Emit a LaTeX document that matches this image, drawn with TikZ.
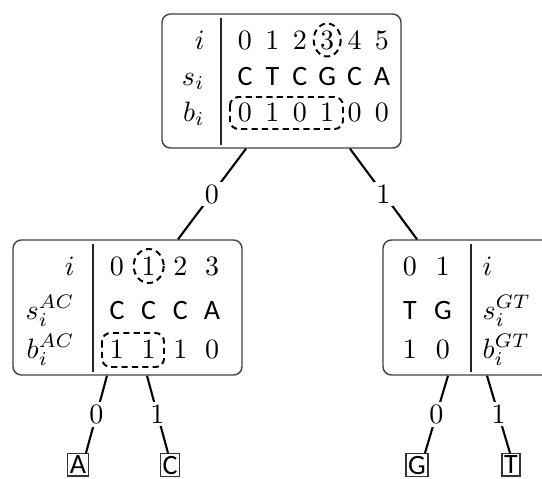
\documentclass[tikz,border=0pt]{standalone}
\usepackage{fontspec}
\setsansfont{Carlito}
\usetikzlibrary{fit}
\begin{document}
\begin{tikzpicture}[x=0.357pt,y=-0.357pt,
  font=\fontsize{10}{12}\selectfont,
  box/.style={draw=black!75, line width=0.5pt, rounded corners=3pt, inner sep=0pt},
  divl/.style={draw=black!85, line width=0.45pt},
  cell/.style={inner sep=0pt, anchor=base},
  sfcell/.style={inner sep=0pt, anchor=base, font=\fontsize{10}{12}\selectfont\sffamily},
  rlab/.style={inner sep=0pt, anchor=base east},
  llab/.style={inner sep=0pt, anchor=base west},
  hilite/.style={draw=black, line width=0.7pt, dash pattern=on 2.2pt off 1.5pt},
  conn/.style={draw=black, line width=0.75pt},
  elab/.style={fill=white, inner sep=1pt},
  leaf/.style={draw=black!80, line width=0.5pt, inner sep=0.8pt, font=\fontsize{10}{12}\selectfont\sffamily}
]
\useasboundingbox (0,0) rectangle (542,478);
\clip (0,0) rectangle (542,478);

% ---------- top box ----------
\node[box, fit={(162,14) (401,148)}] (top) {};
\draw[divl] (221,18) -- (221,145);
\node[rlab] (ti) at (205,49) {$i$};
\node[rlab] (ts) at (205,85) {$s_i$};
\node[rlab] (tb) at (205,121) {$b_i$};
\foreach \v [count=\k from 0] in {0,1,2,3,4,5}
  \node[cell] (ti\k) at (245+27.4*\k,49) {\v};
\foreach \v [count=\k from 0] in {C,T,C,G,C,A}
  \node[sfcell] (ts\k) at (245+27.4*\k,85) {\v};
\foreach \v [count=\k from 0] in {0,1,0,1,0,0}
  \node[cell] (tb\k) at (245+27.4*\k,121) {\v};
\draw[hilite] (327.2,40) ellipse [x radius=13.5, y radius=16.5];
\draw[hilite, rounded corners=3pt] (230,97) rectangle (343,129);

% ---------- left box ----------
\node[box, fit={(13,240) (242,375)}] (lbox) {};
\draw[divl] (93,244) -- (93,372);
\node[rlab] (li) at (75,275) {$i$};
\node[rlab] (ls) at (75,319) {$s_i^{AC}$};
\node[rlab] (lb) at (75,358) {$b_i^{AC}$};
\foreach \v [count=\k from 0] in {0,1,2,3}
  \node[cell] (li\k) at (117+31.7*\k,275) {\v};
\foreach \v [count=\k from 0] in {C,C,C,A}
  \node[sfcell] (ls\k) at (117+31.7*\k,319) {\v};
\foreach \v [count=\k from 0] in {1,1,1,0}
  \node[cell] (lb\k) at (117+31.7*\k,358) {\v};
\draw[hilite] (148.7,266) ellipse [x radius=15, y radius=17];
\draw[hilite, rounded corners=3pt] (102,333) rectangle (164,367);

% ---------- right box ----------
\node[box, fit={(383,240) (612,375)}] (rbox) {};
\draw[divl] (471,244) -- (471,372);
\node[llab] (ri) at (482,275) {$i$};
\node[llab] (rs) at (482,319) {$s_i^{GT}$};
\node[llab] (rb) at (482,358) {$b_i^{GT}$};
\foreach \v [count=\k from 0] in {0,1}
  \node[cell] (ri\k) at (410+33*\k,275) {\v};
\foreach \v [count=\k from 0] in {T,G}
  \node[sfcell] (rs\k) at (410+33*\k,319) {\v};
\foreach \v [count=\k from 0] in {1,0}
  \node[cell] (rb\k) at (410+33*\k,358) {\v};

% ---------- leaves ----------
\node[leaf, anchor=north] (la) at (78,453) {A};
\node[leaf, anchor=north] (lc) at (170,453) {C};
\node[leaf, anchor=north] (lg) at (417,453) {G};
\node[leaf, anchor=north] (lt) at (511,453) {T};

% ---------- connectors ----------
\draw[conn] (246,0 |- top.south) -- node[elab] {0} (178,0 |- lbox.north);
\draw[conn] (350,0 |- top.south) -- node[elab] {1} (417,0 |- rbox.north);
\draw[conn] (107,0 |- lbox.south) -- node[elab] {0} (86,0 |- la.north);
\draw[conn] (147,0 |- lbox.south) -- node[elab] {1} (168,0 |- lc.north);
\draw[conn] (448,0 |- rbox.south) -- node[elab] {0} (425,0 |- lg.north);
\draw[conn] (487,0 |- rbox.south) -- node[elab] {1} (510,0 |- lt.north);
\end{tikzpicture}
\end{document}
